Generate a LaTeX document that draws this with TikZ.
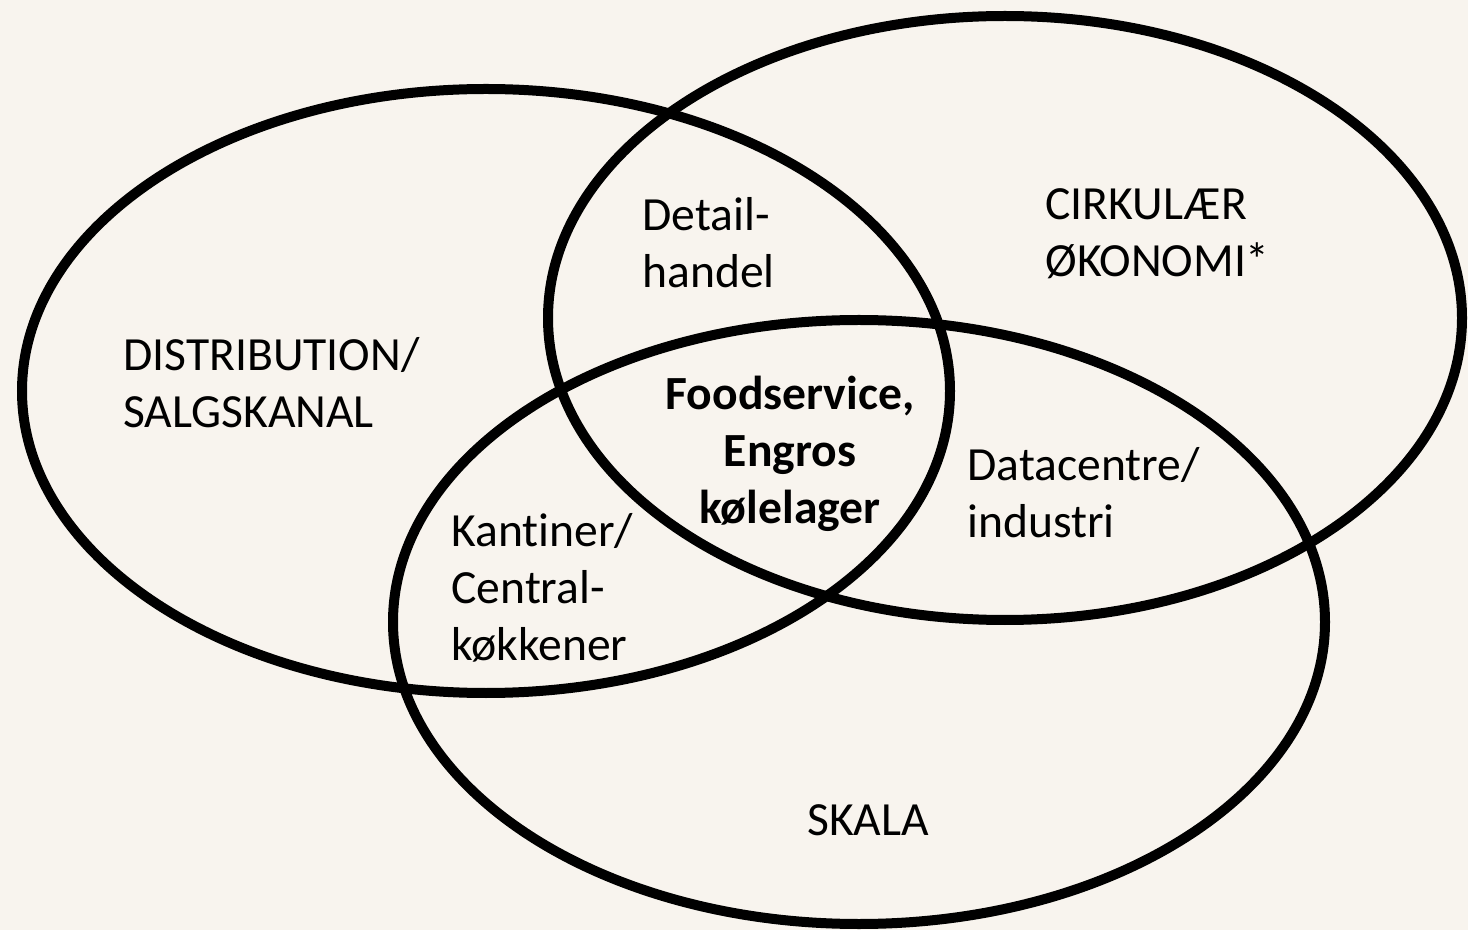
\documentclass[tikz,border=0pt]{standalone}
\usepackage{fontspec}
\setmainfont{Carlito}[Ligatures={NoCommon,NoContextual}]
\usetikzlibrary{shapes.geometric}
\definecolor{paper}{HTML}{F8F4EE}
\tikzset{set/.style={draw, ellipse, line width=5pt, inner sep=0pt, outer sep=0pt},
 lbl/.style={font=\fontsize{23.8}{28.5}\selectfont, inner sep=0pt, align=left, anchor=west},
 core/.style={font=\fontsize{23.8}{28.5}\selectfont\bfseries, inner sep=0pt, align=center},
 }

\begin{document}
\begin{tikzpicture}[x=0.5pt, y=-0.5pt]
        \fill[paper] (0, 0) rectangle (1468, 930);
        \useasboundingbox (0, 0) rectangle (1468, 930);
        % the three sets
        \node[set, minimum width=464pt, minimum height=302pt] (distribution) at (486, 391) {};
        \node[set, minimum width=457pt, minimum height=302pt] (circular) at (1005, 318) {};
        \node[set, minimum width=466pt, minimum height=302pt] (scale) at (859, 622) {};
        % set names
        \node[lbl] (distname) at (123, 383) {DISTRIBUTION/\\SALGSKANAL};
        \node[lbl] (circname) at (1045, 234) {CIRKULÆR\\ØKONOMI*};
        \node[lbl, align=center, anchor=center] (scalename) at (868, 820) {SKALA};
        % overlaps
        \node[lbl] (retail) at (642, 243) {Detail-\\handel};
        \node[lbl] (datacentre) at (967, 493) {Datacentre/\\industri};
        \node[lbl] (canteen) at (451, 588) {Kantiner/\\Central-\\køkkener};
        \node[core] (foodservice) at (790, 454) {Foodservice,\\Engros\\kølelager};
    \end{tikzpicture}
\end{document}
